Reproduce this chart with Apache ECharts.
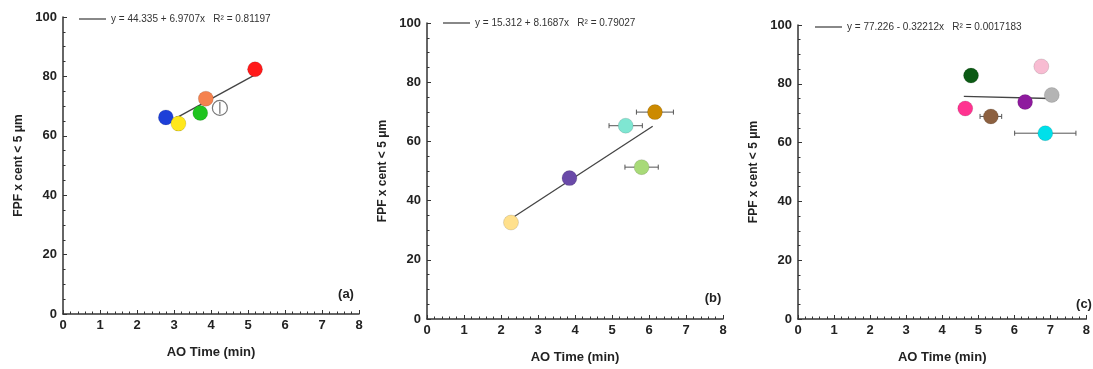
<!DOCTYPE html>
<html><head><meta charset="utf-8">
<script src="https://cdn.jsdelivr.net/npm/echarts@6/dist/echarts.min.js"></script>
<style>html,body{margin:0;padding:0;background:#fff}#c{width:1093px;height:369px}</style>
</head><body><div id="c"></div>
<script>
// ---- data ----
const xAxisName = 'AO Time (min)';
const yAxisName = 'FPF x cent < 5 μm';
const panelLabels = ['(a)', '(b)', '(c)'];
const fitNames = [
  'y = 44.335 + 6.9707x   R\u00b2 = 0.81197',
  'y = 15.312 + 8.1687x   R\u00b2 = 0.79027',
  'y = 77.226 - 0.32212x   R\u00b2 = 0.0017183'
];
// panel (a)
const aX = [2.78, 3.12, 3.71, 3.86, 4.24, 5.19];
const aY = [66.2, 64.1, 67.7, 72.5, 69.4, 82.4];
const aXErr = [0, 0, 0, 0, 0, 0.12];
const aYErr = [0, 2.3, 0, 0, 2.0, 0];
const aColors = ['#1d3fd8', '#ffe81c', '#1fc41f', '#f5824f', '#ffffff', '#ff1a1a'];
const aFitX = [3.1, 5.2];
const aFitY = [66.3, 80.6];
// panel (b)
const bX = [2.27, 3.85, 5.37, 6.16, 5.80];
const bY = [32.6, 47.6, 65.3, 69.9, 51.3];
const bXErr = [0, 0, 0.45, 0.5, 0.45];
const bYErr = [0, 0, 0, 0, 0];
const bColors = ['#ffe08c', '#6a4aa8', '#7fe6d2', '#cc8a00', '#a8da78'];
const bFitX = [2.3, 6.1];
const bFitY = [34.1, 65.1];
// panel (c)
const cX = [4.80, 6.75, 7.04, 6.30, 4.64, 5.35, 6.86];
const cY = [82.8, 85.9, 76.2, 73.8, 71.6, 68.9, 63.2];
const cXErr = [0, 0, 0, 0, 0, 0.3, 0.85];
const cYErr = [0, 0, 0, 0, 0, 0, 0];
const cColors = ['#0b5a14', '#f8bcd2', '#b4b4b4', '#8e1a9e', '#ff3390', '#8c6040', '#00e0ea'];
const cFitX = [4.6, 7.0];
const cFitY = [75.7, 75.0];

// ---- build ----
const panels = [
  {x: aX, y: aY, xe: aXErr, ye: aYErr, col: aColors, fx: aFitX, fy: aFitY},
  {x: bX, y: bY, xe: bXErr, ye: bYErr, col: bColors, fx: bFitX, fy: bFitY},
  {x: cX, y: cY, xe: cXErr, ye: cYErr, col: cColors, fx: cFitX, fy: cFitY}
];
const grids = [
  {left: 63, top: 17, width: 296, height: 297},
  {left: 427, top: 23, width: 296, height: 296},
  {left: 798, top: 25, width: 294, height: 297}
];
const legendPos = [{left: 79, top: 14}, {left: 443, top: 18}, {left: 815, top: 22}];
const labelPos = [[346, 294], [713, 298], [1084, 304]];
const axisColor = '#333';
const font = 'Liberation Sans, Arial, sans-serif';

const xAxes = [], yAxes = [], series = [], legends = [], graphics = [];
panels.forEach((p, i) => {
  xAxes.push({
    gridIndex: i, type: 'value', min: 0, max: 8, interval: 1,
    name: xAxisName, nameLocation: 'middle', nameGap: 32,
    nameTextStyle: {fontFamily: font, fontWeight: 'bold', fontSize: 13, color: '#222'},
    axisLine: {show: true, onZero: false, lineStyle: {color: axisColor, width: 1.5}},
    axisTick: {show: true, inside: true, length: 4, lineStyle: {color: axisColor}},
    minorTick: {show: true, splitNumber: 5, length: 2.5, lineStyle: {color: axisColor}},
    splitLine: {show: false},
    axisLabel: {fontFamily: font, fontWeight: 'bold', fontSize: 13, color: '#222', margin: 5}
  });
  yAxes.push({
    gridIndex: i, type: 'value', min: 0, max: 100, interval: 20,
    name: yAxisName, nameLocation: 'middle', nameGap: 38, nameRotate: 90,
    nameTextStyle: {fontFamily: font, fontWeight: 'bold', fontSize: 12, color: '#222'},
    axisLine: {show: true, onZero: false, lineStyle: {color: axisColor, width: 1.5}},
    axisTick: {show: true, inside: true, length: 4, lineStyle: {color: axisColor}},
    minorTick: {show: true, splitNumber: 4, length: 2.5, lineStyle: {color: axisColor}},
    splitLine: {show: false},
    axisLabel: {fontFamily: font, fontWeight: 'bold', fontSize: 13, color: '#222', margin: 6}
  });
  const errData = p.x.map((v, k) => [v, p.y[k], p.xe[k], p.ye[k]]);
  series.push({
    type: 'custom', xAxisIndex: i, yAxisIndex: i, z: 2,
    renderItem: function (params, api) {
      const x = api.value(0), y = api.value(1), xe = api.value(2), ye = api.value(3);
      const children = [];
      const st = {stroke: '#555', lineWidth: 1};
      if (xe > 0) {
        const l = api.coord([x - xe, y]), r = api.coord([x + xe, y]);
        children.push({type: 'line', shape: {x1: l[0], y1: l[1], x2: r[0], y2: r[1]}, style: st});
        children.push({type: 'line', shape: {x1: l[0], y1: l[1] - 2.5, x2: l[0], y2: l[1] + 2.5}, style: st});
        children.push({type: 'line', shape: {x1: r[0], y1: r[1] - 2.5, x2: r[0], y2: r[1] + 2.5}, style: st});
      }
      if (ye > 0) {
        const t = api.coord([x, y + ye]), b = api.coord([x, y - ye]);
        children.push({type: 'line', shape: {x1: t[0], y1: t[1], x2: b[0], y2: b[1]}, style: st});
        children.push({type: 'line', shape: {x1: t[0] - 2.5, y1: t[1], x2: t[0] + 2.5, y2: t[1]}, style: st});
        children.push({type: 'line', shape: {x1: b[0] - 2.5, y1: b[1], x2: b[0] + 2.5, y2: b[1]}, style: st});
      }
      return {type: 'group', children: children};
    },
    data: errData, silent: true
  });
  series.push({
    type: 'line', name: fitNames[i], xAxisIndex: i, yAxisIndex: i, z: 3,
    symbol: 'none', lineStyle: {color: '#444', width: 1.3}, itemStyle: {color: '#444'},
    data: p.fx.map((v, k) => [v, p.fy[k]]), silent: true
  });
  series.push({
    type: 'scatter', xAxisIndex: i, yAxisIndex: i, z: 4, symbolSize: 15,
    data: p.x.map((v, k) => ({
      value: [v, p.y[k]],
      itemStyle: {opacity: 1, color: p.col[k], borderColor: p.col[k] === '#ffffff' ? '#777' : 'rgba(0,0,0,0.15)', borderWidth: p.col[k] === '#ffffff' ? 1.2 : 0.8}
    })), silent: true
  });
  legends.push({
    left: legendPos[i].left, top: legendPos[i].top, padding: 0,
    itemWidth: 27, itemHeight: 1.4, selectedMode: false,
    data: [{name: fitNames[i], icon: 'rect', itemStyle: {color: '#555', opacity: 1}}],
    textStyle: {fontFamily: font, fontSize: 10, color: '#333', lineHeight: 10}
  });
  graphics.push({
    type: 'text', x: labelPos[i][0], y: labelPos[i][1],
    style: {text: panelLabels[i], font: 'bold 13px ' + font, fill: '#222', textAlign: 'center', textVerticalAlign: 'middle'}
  });
});
// vertical error bar drawn over the hollow marker in panel (a)
series.push({
  type: 'custom', xAxisIndex: 0, yAxisIndex: 0, z: 5, silent: true,
  renderItem: function (params, api) {
    const x = api.value(0), y = api.value(1), ye = api.value(3), c = api.value(4);
    if (!(ye > 0) || c !== 1) return null;
    const t = api.coord([x, y + ye]), b = api.coord([x, y - ye]);
    return {type: 'line', shape: {x1: t[0], y1: t[1], x2: b[0], y2: b[1]}, style: {stroke: '#555', lineWidth: 1}};
  },
  data: aX.map((v, k) => [v, aY[k], aXErr[k], aYErr[k], aColors[k] === '#ffffff' ? 1 : 0])
});

const chart = echarts.init(document.getElementById('c'), null, {renderer: 'canvas'});
chart.setOption({
  animation: false,
  backgroundColor: '#fff',
  grid: grids, xAxis: xAxes, yAxis: yAxes, series: series, legend: legends,
  graphic: graphics
});
</script></body></html>
